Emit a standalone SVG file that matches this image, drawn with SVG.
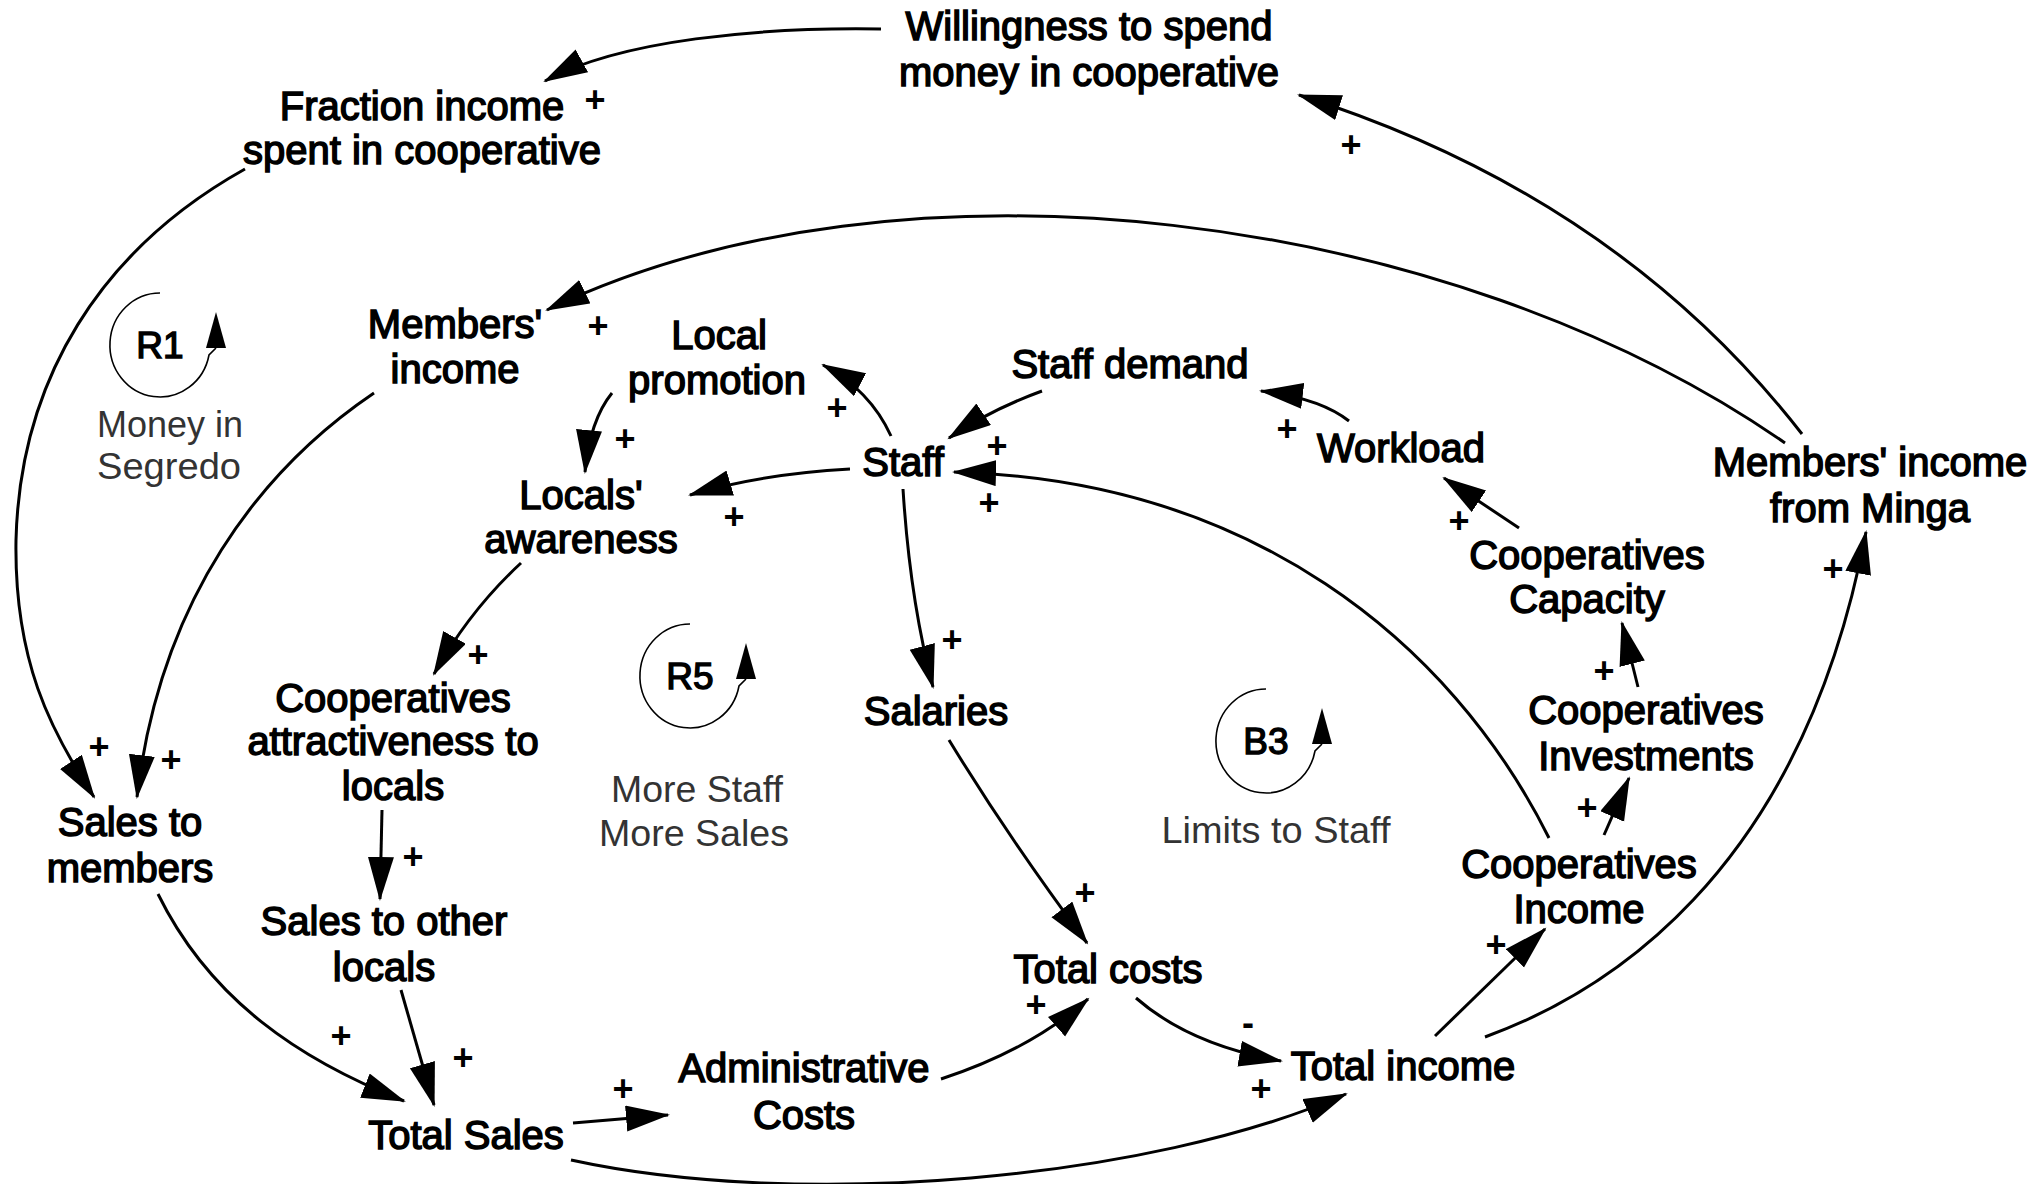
<svg xmlns="http://www.w3.org/2000/svg" width="2043" height="1184" viewBox="0 0 2043 1184">
  <defs>
    <marker id="arrow" markerUnits="userSpaceOnUse" markerWidth="46" markerHeight="28" refX="42" refY="13" orient="auto">
      <path d="M0,0 L44,13 L0,26 z" fill="#000"/>
    </marker>
    <!-- loop indicator: open circle with an upward arrow on its right side -->
    <g id="loopArc">
      <path d="M0,-52 A50,52 0 1 0 49,10 Q53,6 56,3" fill="none" stroke="#000" stroke-width="1.6"/>
      <polygon points="56,-33 46,3 66,3" fill="#000"/>
    </g>
  </defs>
  <style>
    .lbl { font-family: "Liberation Sans", Arial, sans-serif; font-size: 40px; fill: #000; stroke: #000; stroke-width: 1.5px; text-anchor: middle; }
    .loopid { font-family: "Liberation Sans", Arial, sans-serif; font-size: 37px; fill: #000; stroke: #000; stroke-width: 1.4px; text-anchor: middle; }
    .loopname { font-family: "Liberation Sans", Arial, sans-serif; font-size: 37px; fill: #333; text-anchor: middle; }
    .pol { font-family: "Liberation Sans", Arial, sans-serif; font-size: 36px; font-weight: bold; fill: #000; text-anchor: middle; }
    .link { fill: none; stroke: #000; stroke-width: 3; marker-end: url(#arrow); }
  </style>
  <rect width="2043" height="1184" fill="#fff"/>

  <!-- causal links -->
  <g id="connectors">
    <path class="link" d="M881,29 C760,27 620,40 545,81"/>
    <path class="link" d="M1802,434 Q1616,195 1299,95"/>
    <path class="link" d="M1785,443 C1450,210 900,140 547,310"/>
    <path class="link" d="M245,169 C100,250 20,380 16,540 C14,660 50,730 94,797"/>
    <path class="link" d="M374,393 C260,470 160,600 137,797"/>
    <path class="link" d="M158,894 C210,1000 300,1060 404,1101"/>
    <path class="link" d="M401,990 L434,1105"/>
    <path class="link" d="M382,810 L380,899"/>
    <path class="link" d="M521,563 Q470,610 434,674"/>
    <path class="link" d="M612,393 Q590,420 585,472"/>
    <path class="link" d="M891,436 Q870,390 823,365"/>
    <path class="link" d="M850,469 Q760,474 690,495"/>
    <path class="link" d="M1042,391 Q990,410 949,438"/>
    <path class="link" d="M1349,421 Q1320,398 1261,391"/>
    <path class="link" d="M1519,528 L1444,478"/>
    <path class="link" d="M1638,687 L1622,623"/>
    <path class="link" d="M1604,835 L1629,778"/>
    <path class="link" d="M1435,1036 L1545,929"/>
    <path class="link" d="M1485,1037 C1600,995 1800,880 1866,532"/>
    <path class="link" d="M1549,838 C1450,640 1250,480 954,472"/>
    <path class="link" d="M903,489 Q910,600 933,687"/>
    <path class="link" d="M949,740 Q1010,840 1087,943"/>
    <path class="link" d="M941,1079 Q1030,1050 1088,999"/>
    <path class="link" d="M1136,998 Q1190,1045 1281,1061"/>
    <path class="link" d="M573,1123 L668,1115"/>
    <path class="link" d="M571,1160 C800,1210 1150,1180 1346,1094"/>
  </g>

  <!-- link polarities -->
  <g id="polarities">
    <text class="pol" x="595" y="112">+</text>
    <text class="pol" x="1351" y="157">+</text>
    <text class="pol" x="598" y="338">+</text>
    <text class="pol" x="99" y="759">+</text>
    <text class="pol" x="171" y="772">+</text>
    <text class="pol" x="341" y="1048">+</text>
    <text class="pol" x="463" y="1070">+</text>
    <text class="pol" x="413" y="869">+</text>
    <text class="pol" x="478" y="667">+</text>
    <text class="pol" x="625" y="451">+</text>
    <text class="pol" x="837" y="420">+</text>
    <text class="pol" x="734" y="529">+</text>
    <text class="pol" x="997" y="458">+</text>
    <text class="pol" x="989" y="515">+</text>
    <text class="pol" x="1287" y="441">+</text>
    <text class="pol" x="1459" y="533">+</text>
    <text class="pol" x="1604" y="683">+</text>
    <text class="pol" x="1587" y="820">+</text>
    <text class="pol" x="1496" y="957">+</text>
    <text class="pol" x="1833" y="581">+</text>
    <text class="pol" x="952" y="652">+</text>
    <text class="pol" x="1085" y="905">+</text>
    <text class="pol" x="1036" y="1017">+</text>
    <text class="pol" x="623" y="1101">+</text>
    <text class="pol" x="1261" y="1101">+</text>
    <text class="pol" x="1248" y="1035">-</text>
  </g>

  <!-- variables -->
  <g id="willingness"><text class="lbl" x="1089" y="40">Willingness to spend</text><text class="lbl" x="1089" y="86">money in cooperative</text></g>
  <g id="fraction-income"><text class="lbl" x="422" y="120">Fraction income</text><text class="lbl" x="422" y="164">spent in cooperative</text></g>
  <g id="members-income"><text class="lbl" x="455" y="338">Members'</text><text class="lbl" x="455" y="383">income</text></g>
  <g id="local-promotion"><text class="lbl" x="719" y="349">Local</text><text class="lbl" x="717" y="394">promotion</text></g>
  <g id="staff-demand"><text class="lbl" x="1130" y="378">Staff demand</text></g>
  <g id="workload"><text class="lbl" x="1401" y="462">Workload</text></g>
  <g id="minga-income"><text class="lbl" x="1870" y="476">Members' income</text><text class="lbl" x="1870" y="522">from Minga</text></g>
  <g id="staff"><text class="lbl" x="903" y="476">Staff</text></g>
  <g id="locals-awareness"><text class="lbl" x="581" y="509">Locals'</text><text class="lbl" x="581" y="553">awareness</text></g>
  <g id="coop-capacity"><text class="lbl" x="1587" y="569">Cooperatives</text><text class="lbl" x="1587" y="613">Capacity</text></g>
  <g id="coop-attractiveness"><text class="lbl" x="393" y="712">Cooperatives</text><text class="lbl" x="393" y="755">attractiveness to</text><text class="lbl" x="393" y="800">locals</text></g>
  <g id="salaries"><text class="lbl" x="936" y="725">Salaries</text></g>
  <g id="coop-investments"><text class="lbl" x="1646" y="724">Cooperatives</text><text class="lbl" x="1646" y="770">Investments</text></g>
  <g id="sales-members"><text class="lbl" x="130" y="836">Sales to</text><text class="lbl" x="130" y="882">members</text></g>
  <g id="sales-locals"><text class="lbl" x="384" y="935">Sales to other</text><text class="lbl" x="384" y="981">locals</text></g>
  <g id="total-costs"><text class="lbl" x="1108" y="983">Total costs</text></g>
  <g id="coop-income"><text class="lbl" x="1579" y="878">Cooperatives</text><text class="lbl" x="1579" y="923">Income</text></g>
  <g id="admin-costs"><text class="lbl" x="804" y="1082">Administrative</text><text class="lbl" x="804" y="1129">Costs</text></g>
  <g id="total-income"><text class="lbl" x="1403" y="1080">Total income</text></g>
  <g id="total-sales"><text class="lbl" x="466" y="1149">Total Sales</text></g>

  <!-- feedback loops -->
  <g id="loop-r1">
    <use href="#loopArc" transform="translate(160,345)"/>
    <text class="loopid" x="160" y="358">R1</text>
    <text class="loopname" x="170" y="437" textLength="146" lengthAdjust="spacingAndGlyphs">Money in</text>
    <text class="loopname" x="169" y="479" textLength="144" lengthAdjust="spacingAndGlyphs">Segredo</text>
  </g>
  <g id="loop-r5">
    <use href="#loopArc" transform="translate(690,676)"/>
    <text class="loopid" x="690" y="689">R5</text>
    <text class="loopname" x="697" y="802" textLength="172" lengthAdjust="spacingAndGlyphs">More Staff</text>
    <text class="loopname" x="694" y="846" textLength="190" lengthAdjust="spacingAndGlyphs">More Sales</text>
  </g>
  <g id="loop-b3">
    <use href="#loopArc" transform="translate(1266,741)"/>
    <text class="loopid" x="1266" y="754">B3</text>
    <text class="loopname" x="1276" y="843" textLength="229" lengthAdjust="spacingAndGlyphs">Limits to Staff</text>
  </g>
</svg>
